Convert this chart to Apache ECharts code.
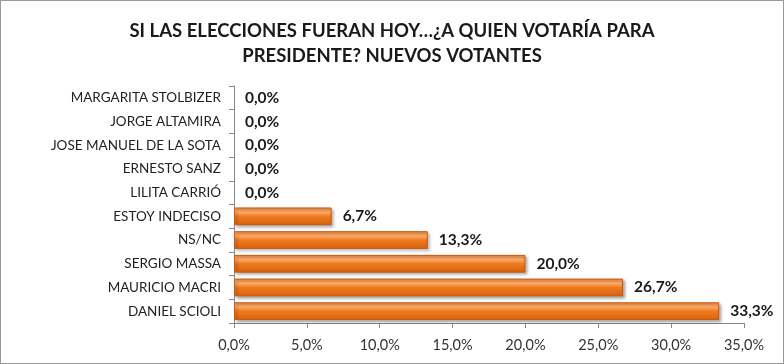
<!DOCTYPE html>
<html><head><meta charset="utf-8">
<script src="https://cdn.jsdelivr.net/npm/echarts@6/dist/echarts.min.js"></script>
<style>html,body{margin:0;padding:0;background:#fff}#c{width:784px;height:364px;box-sizing:border-box;border:1px solid #9a9a9a}</style>
</head><body><div id="c"></div>
<script>
const categories = ["DANIEL SCIOLI","MAURICIO MACRI","SERGIO MASSA","NS/NC","ESTOY INDECISO","LILITA CARRIÓ","ERNESTO SANZ","JOSE MANUEL DE LA SOTA","JORGE ALTAMIRA","MARGARITA STOLBIZER"];
const values = [33.3, 26.7, 20.0, 13.3, 6.7, 0.0, 0.0, 0.0, 0.0, 0.0];
const xTicks = [0,5,10,15,20,25,30,35];
const titleText = "SI LAS ELECCIONES FUERAN HOY…¿A QUIEN VOTARÍA PARA\nPRESIDENTE? NUEVOS VOTANTES";
const fmt = v => v.toFixed(1).replace('.', ',') + '%';
const chart = echarts.init(document.getElementById('c'));
const seriesData = values.map(v => v === 0
  ? {value:v, itemStyle:{borderWidth:0, shadowBlur:0, shadowOffsetX:0, shadowOffsetY:0, opacity:0}}
  : v);
chart.setOption({
  animation:false,
  title:{text:titleText,left:'center',top:13,textStyle:{fontFamily:'Lato',fontWeight:'bold',fontSize:18.5,color:'#1a1a1a',lineHeight:25}},
  grid:{left:233,right:39,top:85,bottom:40,containLabel:false},
  xAxis:{type:'value',min:xTicks[0],max:xTicks[xTicks.length-1],interval:5,
    axisLine:{show:true,lineStyle:{color:'#888'}},
    axisTick:{show:true,length:5,lineStyle:{color:'#888'}},
    splitLine:{show:false},
    axisLabel:{formatter:v=>fmt(v),fontFamily:'Lato',fontSize:14.5,color:'#333',margin:15}},
  yAxis:{type:'category',data:categories,
    axisLine:{show:true,lineStyle:{color:'#888'}},
    axisTick:{show:true,length:5,lineStyle:{color:'#888'}},
    axisLabel:{fontFamily:'Lato',fontSize:13.5,color:'#222',margin:13}},
  series:[{type:'bar',data:seriesData,barCategoryGap:'25%',
    itemStyle:{
      color:new echarts.graphic.LinearGradient(0,0,0,1,[
        {offset:0,color:'#f0863a'},{offset:0.25,color:'#ffb070'},{offset:0.5,color:'#f07a1e'},{offset:1,color:'#d8620e'}]),
      borderColor:'#c85a10',borderWidth:1,
      shadowColor:'rgba(0,0,0,0.35)',shadowBlur:3,shadowOffsetX:2,shadowOffsetY:2},
    label:{show:true,position:'right',distance:11,formatter:p=>fmt(p.value),opacity:1,
      fontFamily:'Lato',fontWeight:'bold',fontSize:15.5,color:'#1a1a1a'}}]
});
</script></body></html>
